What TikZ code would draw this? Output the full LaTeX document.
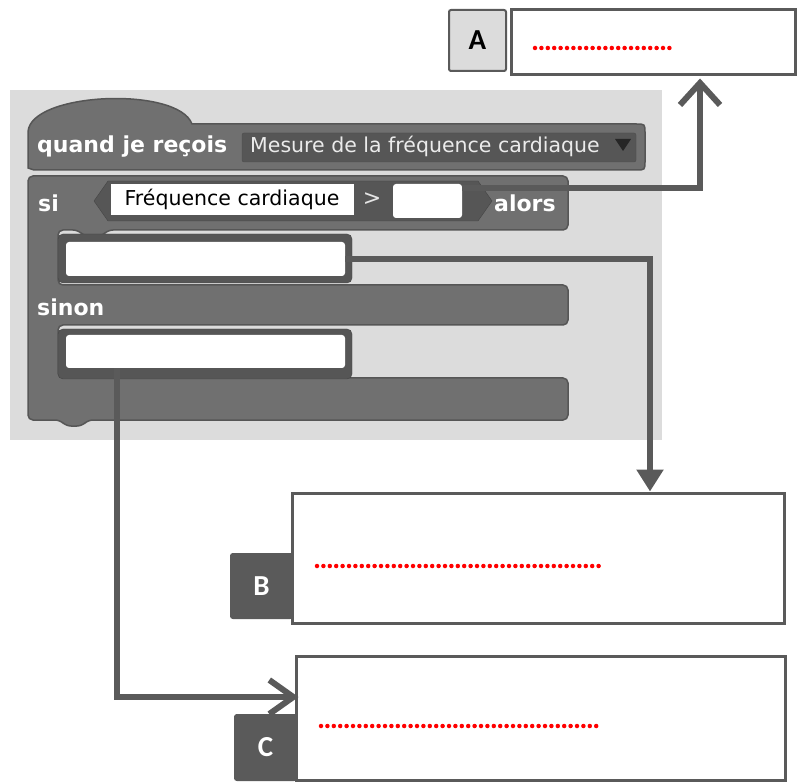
\documentclass[tikz,border=0pt]{standalone}
\usepackage{fontspec}
\setmainfont{DejaVu Sans}
\newfontfamily\lettres{Carlito}
\usetikzlibrary{calc,arrows.meta,positioning}
\definecolor{bloc}{HTML}{707070}
\definecolor{blocfonce}{HTML}{565656}
\definecolor{trait}{HTML}{5A5A5A}
\definecolor{fond}{HTML}{DCDCDC}

\begin{document}
\begin{tikzpicture}[x=1pt,y=-1pt,
    champ/.style={fill=white,rounded corners=3pt,inner sep=0pt},
    reponse/.style={draw=trait,line width=3pt,fill=white,inner sep=0pt},
    lettre/.style={draw=trait,line width=2pt,rounded corners=2pt,inner sep=0pt,font=\lettres\bfseries\fontsize{29}{29}\selectfont},
    mot/.style={anchor=west,text=white,inner sep=0pt,font=\bfseries\fontsize{22}{22}\selectfont},
    fleche/.style={draw=trait,line width=6pt},
    points/.style={red,line width=4.5pt,line cap=round,dash pattern=on 0pt off 6.4pt}]
              \useasboundingbox (0,0) rectangle (803,783);
              % fond gris du script
              \fill[fond](10,90)rectangle(662,440);
              % bloc chapeau
              \filldraw[fill=bloc,draw=blocfonce,line width=1.5pt](28,168)--(28,132) .. controls (30,92) and (178,86) .. (192,124)--(636,124) .. controls (645,124) .. (645,133)--(645,161) .. controls (645,170) .. (636,170)--(34,170)--cycle;
              % bloc si / sinon
              \filldraw[fill=bloc,draw=blocfonce,line width=1.5pt,rounded corners=5pt](28,176)--(568,176)--(568,230)--(108,230)--(102,236)--(84,236)--(78,230)--(58,230)--(58,285)--(568,285)--(568,325)--(58,325)--(58,378)--(568,378)--(568,420)--(88,420)--(82,426)--(66,426)--(60,420)--(28,420)--cycle;
              \filldraw[fill=blocfonce,draw=blocfonce!80!black](94,201)--(108,181)--(478,181)--(492,201)--(478,221)--(108,221)--cycle;
              \filldraw[fill=blocfonce,draw=blocfonce!80!black,rounded corners=5pt](58,234)rectangle(352,283);
              \filldraw[fill=blocfonce,draw=blocfonce!80!black,rounded corners=5pt](58,329)rectangle(352,379);
              % textes du script
              \node[mot](quand)at(37,147){quand je reçois};
              \node[fill=blocfonce,draw=black!70,minimum width=394pt,minimum height=29pt,rounded corners=2pt](menu)at(439,147.5){};
              \node[anchor=west,text=black!8,inner sep=0pt,font=\fontsize{20.5}{20.5}\selectfont]at(250,146){Mesure de la fréquence cardiaque};
              \fill[black!85](615,139)--(631,139)--(623,151)--cycle;
              \node[mot](si)at(38,203){si};
              \node[champ,rounded corners=0pt,minimum width=243pt,minimum height=31pt,font=\fontsize{20.5}{20.5}\selectfont](freq)at(232,199.5){Fréquence cardiaque};
              \node[text=black!10,inner sep=0pt,font=\fontsize{22}{22}\selectfont](sup)at(372,199){>};
              \node[champ,minimum width=69pt,minimum height=34pt](seuil)at(427.5,201){};
              \node[mot](alors)at(494,203){alors};
              \node[mot](sinon)at(37,307){sinon};
              \node[champ,minimum width=279pt,minimum height=34pt](action1)at(205.5,259){};
              \node[champ,minimum width=279pt,minimum height=33pt](action2)at(205.5,351.5){};
              % cases a completer
              \node[lettre,fill=fond,minimum width=57pt,minimum height=61pt](la)at(477.5,40.5){A};
              \node[reponse,minimum width=284pt,minimum height=65pt](a)at(653,42.5){};
              \node[lettre,fill=trait,text=white,minimum width=61pt,minimum height=64pt](lb)at(261.5,586){B};
              \node[reponse,minimum width=492pt,minimum height=130pt](b)at(538,558){};
              \node[lettre,fill=trait,text=white,minimum width=61pt,minimum height=65pt](lc)at(265.5,747.5){C};
              \node[reponse,minimum width=489pt,minimum height=124pt](c)at(540.5,718){};
              \draw[points](535,48)--(673,48);
              \draw[points](317,566)--(600,566);
              \draw[points](321,726)--(598,726);
              % fleches
              \draw[fleche,-{Straight Barb[length=22pt,width=40pt]}]([yshift=13pt]seuil.east)-|([xshift=47pt,yshift=-2pt]a.south);
              \draw[fleche,-{Triangle[length=22pt,width=26pt]}](action1.east)-|([xshift=112pt]b.north);
              \draw[fleche,-{Straight Barb[length=24pt,width=34pt]}]([xshift=51pt]action2.south west)|-([yshift=21pt,xshift=4pt]c.west);
            \end{tikzpicture}
\end{document}
